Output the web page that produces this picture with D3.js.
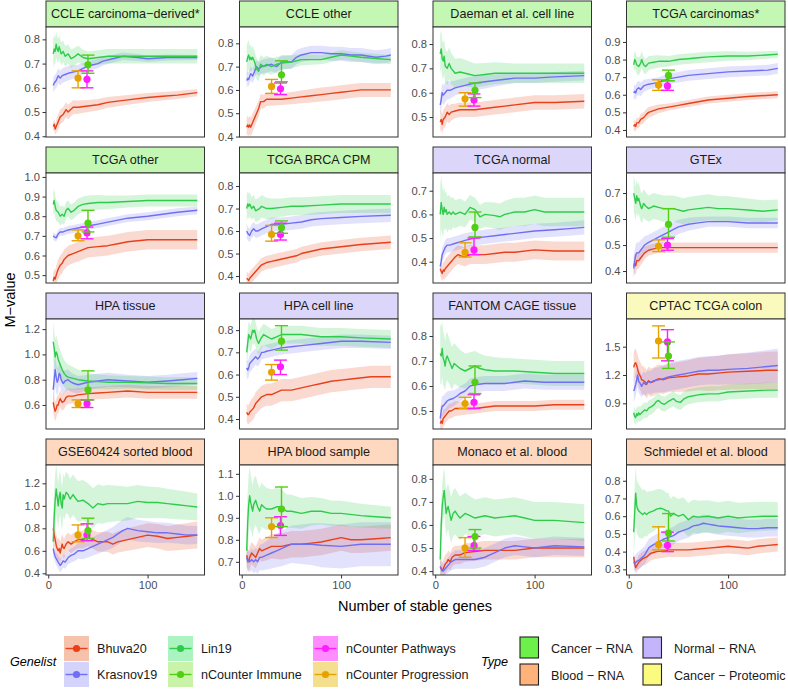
<!DOCTYPE html>
<html><head><meta charset="utf-8">
<script src="https://cdn.jsdelivr.net/npm/d3@7"></script>
<style>body{margin:0;background:#fff} text{font-family:"Liberation Sans",Arial,Helvetica,sans-serif}</style>
</head><body><svg id="c" width="788" height="689"></svg>
<script>
// ---------------- DATA ----------------
const panels = ["CCLE carcinoma\u2212derived*","CCLE other","Daeman et al. cell line","TCGA carcinomas*",
 "TCGA other","TCGA BRCA CPM","TCGA normal","GTEx",
 "HPA tissue","HPA cell line","FANTOM CAGE tissue","CPTAC TCGA colon",
 "GSE60424 sorted blood","HPA blood sample","Monaco et al. blood","Schmiedel et al. blood"];
const panelTypes = ["Cancer \u2212 RNA","Cancer \u2212 RNA","Cancer \u2212 RNA","Cancer \u2212 RNA",
 "Cancer \u2212 RNA","Cancer \u2212 RNA","Normal \u2212 RNA","Normal \u2212 RNA",
 "Normal \u2212 RNA","Normal \u2212 RNA","Normal \u2212 RNA","Cancer \u2212 Proteomic",
 "Blood \u2212 RNA","Blood \u2212 RNA","Blood \u2212 RNA","Blood \u2212 RNA"];
const yDomains = [[0.397,0.851],[0.398,0.87],[0.418,0.87],[0.36,0.985],
 [0.46,1.02],[0.369,0.858],[0.31,0.775],[0.354,0.777],
 [0.41,1.28],[0.355,0.85],[0.428,0.868],[0.628,1.793],
 [0.385,1.363],[0.64,1.14],[0.383,0.86],[0.268,0.889]];
const yTicks = [[.4,.5,.6,.7,.8],[.4,.5,.6,.7,.8],[.5,.6,.7,.8],[.4,.5,.6,.7,.8,.9],
 [.5,.6,.7,.8,.9,1.0],[.4,.5,.6,.7,.8],[.4,.5,.6,.7],[.4,.5,.6,.7],
 [.6,.8,1.0,1.2],[.4,.5,.6,.7,.8],[.5,.6,.7,.8],[.9,1.2,1.5],
 [.4,.6,.8,1.0,1.2],[.7,.8,.9,1.0,1.1],[.4,.5,.6,.7,.8],[.3,.4,.5,.6,.7,.8]];
const xTicks = [0,100];

// Bhuva20 lines [genes, M-value]
const bhuva20 = [
 [[5,.44],[6,.45],[7,.43],[8,.44],[10,.46],[12,.48],[15,.49],[18,.51],[20,.50],[25,.52],[30,.52],[40,.525],[50,.53],[60,.54],[70,.545],[80,.55],[100,.56],[115,.565],[130,.57],[150,.58]],
 [[5,.44],[6,.45],[7,.44],[8,.45],[9,.44],[11,.46],[13,.48],[15,.50],[17,.52],[19,.55],[22,.55],[25,.56],[30,.56],[40,.56],[50,.565],[60,.57],[70,.575],[80,.58],[90,.585],[100,.59],[110,.595],[120,.60],[135,.60],[150,.60]],
 [[5,.48],[6,.49],[7,.47],[8,.49],[10,.50],[12,.52],[14,.51],[16,.52],[20,.525],[25,.53],[30,.53],[40,.53],[50,.535],[60,.54],[70,.545],[80,.55],[100,.56],[120,.56],[150,.565]],
 [[5,.42],[6,.43],[7,.42],[8,.44],[10,.44],[12,.46],[15,.47],[18,.49],[20,.50],[25,.51],[30,.52],[40,.53],[50,.54],[60,.55],[70,.56],[80,.57],[100,.58],[120,.59],[150,.60]],
 [[5,.47],[6,.49],[7,.48],[8,.50],[10,.53],[12,.55],[14,.56],[16,.58],[18,.59],[20,.60],[25,.61],[30,.62],[40,.64],[50,.645],[60,.65],[70,.66],[80,.67],[100,.68],[120,.68],[150,.68]],
 [[5,.39],[6,.385],[7,.38],[8,.39],[10,.40],[12,.41],[14,.42],[16,.43],[18,.44],[20,.45],[25,.46],[30,.465],[35,.47],[45,.48],[55,.49],[60,.50],[70,.51],[80,.52],[100,.53],[120,.54],[150,.55]],
 [[5,.37],[6,.36],[7,.35],[8,.365],[9,.36],[10,.37],[12,.38],[14,.39],[16,.40],[18,.41],[20,.42],[23,.43],[26,.425],[30,.42],[35,.43],[40,.43],[50,.43],[60,.435],[70,.44],[80,.44],[100,.45],[120,.445],[150,.445]],
 [[5,.42],[6,.43],[7,.42],[8,.44],[10,.44],[12,.45],[14,.46],[16,.47],[20,.48],[25,.485],[30,.49],[40,.49],[50,.49],[70,.49],[100,.49],[120,.49],[150,.49]],
 [[5,.62],[6,.58],[7,.55],[8,.57],[9,.60],[10,.60],[11,.63],[12,.65],[14,.62],[16,.63],[18,.66],[20,.67],[25,.67],[30,.68],[40,.69],[50,.695],[60,.70],[80,.71],[100,.70],[120,.70],[150,.70]],
 [[5,.43],[6,.42],[7,.42],[8,.43],[10,.44],[12,.45],[14,.47],[16,.48],[18,.49],[20,.50],[25,.51],[30,.51],[40,.53],[50,.53],[60,.54],[70,.55],[80,.56],[90,.57],[100,.575],[110,.58],[130,.59],[150,.59]],
 [[5,.45],[6,.46],[7,.45],[8,.47],[10,.48],[12,.49],[14,.50],[16,.50],[20,.51],[25,.51],[30,.51],[40,.51],[50,.515],[60,.52],[80,.52],[100,.52],[120,.525],[150,.525]],
 [[5,1.28],[6,1.32],[7,1.33],[8,1.30],[9,1.26],[10,1.22],[11,1.20],[12,1.18],[13,1.15],[15,1.14],[17,1.12],[18,1.10],[20,1.14],[22,1.12],[25,1.13],[28,1.15],[30,1.16],[35,1.15],[40,1.17],[50,1.18],[60,1.19],[70,1.21],[80,1.21],[90,1.22],[100,1.23],[120,1.24],[140,1.25],[150,1.25]],
 [[5,.80],[6,.74],[7,.70],[8,.65],[9,.62],[10,.60],[11,.62],[12,.58],[13,.62],[14,.66],[15,.63],[16,.62],[18,.66],[20,.68],[23,.66],[26,.68],[30,.70],[35,.70],[40,.72],[45,.70],[50,.68],[60,.68],[65,.66],[70,.68],[80,.70],[90,.72],[100,.74],[110,.73],[120,.71],[130,.72],[140,.73],[150,.74]],
 [[5,.73],[6,.71],[7,.70],[8,.72],[10,.74],[12,.73],[14,.72],[16,.74],[18,.76],[20,.75],[25,.76],[30,.77],[40,.77],[50,.78],[60,.78],[70,.785],[80,.79],[100,.81],[110,.80],[120,.80],[135,.805],[150,.81]],
 [[5,.42],[6,.41],[7,.40],[8,.41],[10,.43],[12,.44],[13,.45],[15,.44],[17,.46],[20,.47],[25,.47],[30,.48],[40,.485],[50,.49],[60,.49],[80,.49],[100,.50],[120,.50],[150,.50]],
 [[5,.37],[6,.33],[7,.31],[8,.32],[10,.34],[12,.35],[14,.36],[16,.365],[18,.37],[20,.38],[22,.39],[25,.395],[28,.40],[35,.405],[40,.41],[50,.41],[60,.41],[70,.415],[80,.42],[90,.425],[100,.43],[110,.425],[120,.42],[130,.43],[140,.435],[150,.44]]
];
// Krasnov19 lines
const krasnov19 = [
 [[5,.61],[6,.62],[8,.63],[10,.65],[12,.64],[14,.65],[17,.655],[20,.66],[25,.665],[30,.67],[35,.68],[40,.69],[50,.70],[55,.71],[65,.72],[75,.73],[90,.725],[100,.72],[120,.725],[150,.725]],
 [[5,.64],[6,.65],[7,.645],[9,.67],[11,.66],[13,.68],[15,.70],[17,.69],[20,.70],[25,.705],[30,.71],[35,.70],[40,.72],[45,.72],[50,.72],[55,.74],[60,.75],[70,.76],[80,.76],[90,.755],[100,.755],[110,.75],[120,.75],[135,.74],[145,.745],[150,.75]],
 [[5,.55],[6,.57],[7,.60],[8,.59],[10,.60],[12,.61],[15,.61],[20,.62],[25,.625],[30,.63],[40,.64],[50,.645],[60,.65],[80,.66],[100,.66],[120,.665],[150,.67]],
 [[5,.61],[6,.62],[7,.61],[8,.63],[10,.64],[12,.63],[15,.65],[20,.66],[25,.665],[30,.67],[40,.69],[50,.70],[60,.71],[80,.72],[100,.73],[120,.735],[140,.74],[150,.75]],
 [[5,.70],[6,.695],[8,.69],[10,.71],[12,.72],[15,.72],[20,.73],[25,.735],[30,.74],[40,.75],[50,.76],[60,.77],[70,.78],[80,.79],[100,.80],[115,.81],[130,.82],[150,.83]],
 [[5,.60],[6,.59],[8,.58],[10,.60],[12,.61],[14,.60],[16,.60],[20,.61],[25,.62],[30,.63],[40,.63],[50,.635],[60,.64],[70,.65],[80,.655],[100,.66],[120,.665],[150,.67]],
 [[5,.38],[6,.40],[7,.43],[8,.44],[10,.46],[12,.47],[15,.47],[18,.475],[22,.48],[26,.485],[30,.49],[40,.50],[50,.505],[60,.51],[70,.515],[80,.52],[100,.53],[120,.535],[135,.54],[150,.545]],
 [[5,.41],[6,.44],[7,.46],[8,.47],[10,.47],[12,.48],[14,.49],[16,.50],[20,.51],[25,.52],[30,.53],[35,.54],[40,.55],[45,.56],[50,.57],[60,.58],[70,.585],[80,.59],[100,.59],[120,.585],[150,.585]],
 [[5,.72],[6,.80],[7,.88],[8,.82],[9,.78],[10,.80],[11,.85],[12,.84],[13,.80],[15,.77],[17,.79],[20,.80],[23,.78],[26,.77],[30,.76],[40,.78],[50,.79],[60,.80],[80,.79],[100,.78],[120,.79],[135,.80],[150,.81]],
 [[5,.63],[6,.62],[7,.63],[8,.65],[10,.66],[12,.67],[14,.68],[16,.67],[18,.68],[20,.70],[22,.70],[25,.705],[30,.71],[40,.72],[50,.725],[60,.73],[80,.74],[100,.75],[120,.75],[150,.745]],
 [[5,.47],[6,.50],[7,.52],[8,.52],[10,.53],[12,.54],[14,.545],[18,.55],[22,.56],[25,.57],[30,.58],[35,.60],[40,.605],[50,.61],[60,.61],[70,.61],[80,.615],[90,.62],[110,.615],[130,.615],[150,.615]],
 [[5,1.03],[6,1.06],[7,1.10],[8,1.15],[9,1.20],[10,1.13],[11,1.12],[12,1.10],[13,1.08],[15,1.12],[17,1.10],[19,1.13],[22,1.12],[25,1.14],[30,1.15],[35,1.16],[40,1.18],[50,1.20],[60,1.22],[70,1.24],[80,1.25],[90,1.25],[100,1.26],[120,1.27],[140,1.29],[150,1.30]],
 [[5,.62],[6,.58],[7,.55],[8,.53],[10,.50],[12,.47],[13,.48],[15,.51],[17,.50],[20,.54],[23,.56],[26,.57],[30,.60],[35,.60],[40,.62],[45,.64],[50,.66],[55,.68],[60,.70],[65,.72],[70,.75],[75,.78],[80,.80],[90,.78],[100,.77],[110,.76],[120,.76],[130,.75],[140,.74],[150,.74]],
 [[5,.72],[6,.70],[7,.71],[8,.70],[10,.71],[12,.70],[14,.71],[16,.70],[18,.72],[20,.72],[25,.73],[30,.74],[35,.75],[40,.76],[50,.78],[60,.78],[70,.78],[80,.775],[100,.77],[120,.78],[150,.78]],
 [[5,.42],[6,.41],[8,.40],[10,.41],[12,.42],[14,.43],[16,.44],[20,.45],[25,.45],[30,.45],[40,.45],[50,.46],[55,.47],[60,.48],[70,.50],[80,.51],[90,.505],[100,.50],[120,.51],[150,.505]],
 [[5,.34],[6,.33],[7,.34],[8,.345],[10,.35],[12,.36],[14,.37],[16,.38],[18,.40],[20,.42],[22,.43],[25,.44],[28,.45],[32,.46],[35,.47],[40,.48],[45,.49],[50,.51],[55,.52],[60,.53],[65,.545],[70,.55],[75,.56],[80,.555],[85,.55],[90,.545],[100,.54],[110,.535],[120,.53],[130,.53],[140,.535],[150,.535]]
];
// Lin19 lines
const lin19 = [
 [[5,.74],[6,.76],[7,.75],[8,.78],[9,.76],[10,.75],[11,.77],[13,.74],[15,.75],[17,.73],[20,.74],[23,.72],[27,.73],[30,.74],[35,.725],[40,.72],[50,.725],[60,.73],[80,.73],[100,.73],[120,.73],[150,.73]],
 [[5,.72],[6,.74],[7,.75],[8,.73],[9,.74],[10,.73],[11,.74],[13,.72],[15,.69],[17,.68],[19,.71],[22,.70],[25,.71],[30,.70],[35,.71],[40,.715],[50,.72],[60,.73],[70,.73],[80,.73],[90,.74],[100,.75],[110,.745],[120,.74],[135,.735],[150,.73]],
 [[5,.76],[6,.78],[7,.74],[8,.73],[9,.75],[10,.71],[12,.70],[14,.72],[16,.70],[18,.69],[20,.68],[25,.685],[30,.68],[35,.675],[40,.67],[50,.675],[60,.68],[80,.68],[100,.68],[120,.68],[150,.68]],
 [[5,.77],[6,.80],[7,.79],[8,.77],[10,.76],[12,.78],[13,.80],[15,.77],[17,.76],[20,.78],[25,.785],[30,.79],[40,.79],[50,.80],[60,.805],[70,.81],[80,.815],[100,.82],[120,.82],[150,.83]],
 [[5,.86],[6,.88],[7,.85],[8,.83],[10,.82],[12,.80],[14,.81],[16,.80],[18,.83],[20,.84],[23,.82],[26,.83],[30,.85],[35,.86],[40,.865],[50,.87],[60,.87],[80,.875],[100,.88],[120,.88],[150,.88]],
 [[5,.70],[6,.72],[7,.71],[8,.72],[10,.70],[12,.71],[14,.69],[16,.695],[18,.70],[20,.71],[25,.70],[30,.70],[40,.705],[50,.71],[60,.71],[80,.715],[100,.72],[120,.72],[150,.72]],
 [[5,.60],[6,.65],[7,.62],[8,.60],[9,.63],[10,.61],[11,.62],[12,.60],[14,.61],[16,.60],[18,.61],[20,.60],[25,.61],[30,.60],[35,.63],[40,.62],[45,.59],[50,.60],[60,.595],[65,.59],[70,.60],[80,.61],[90,.61],[100,.62],[110,.61],[120,.61],[140,.61],[150,.61]],
 [[5,.70],[6,.68],[7,.66],[8,.69],[9,.67],[10,.68],[12,.65],[13,.64],[15,.66],[17,.65],[20,.64],[25,.65],[30,.645],[35,.64],[45,.64],[55,.63],[60,.635],[70,.64],[80,.645],[90,.64],[100,.64],[120,.635],[135,.63],[150,.635]],
 [[5,1.10],[6,1.05],[7,.98],[8,1.02],[9,1.00],[10,.96],[12,.92],[14,.88],[16,.85],[18,.83],[20,.82],[25,.81],[30,.80],[40,.79],[50,.785],[60,.78],[80,.78],[100,.775],[120,.77],[150,.77]],
 [[5,.70],[6,.74],[7,.78],[8,.77],[9,.76],[10,.78],[11,.80],[12,.79],[13,.80],[15,.76],[17,.74],[19,.76],[22,.78],[26,.77],[30,.76],[35,.77],[40,.78],[50,.78],[60,.78],[80,.77],[100,.77],[120,.765],[150,.76]],
 [[5,.73],[6,.72],[7,.75],[8,.71],[9,.70],[10,.68],[11,.71],[12,.72],[13,.71],[15,.69],[17,.67],[19,.69],[22,.68],[25,.67],[30,.66],[35,.67],[40,.68],[45,.67],[50,.665],[60,.66],[70,.66],[80,.66],[100,.655],[120,.65],[150,.65]],
 [[5,.80],[6,.76],[7,.75],[8,.79],[9,.77],[10,.80],[11,.78],[12,.79],[14,.81],[16,.83],[18,.82],[20,.85],[22,.86],[25,.88],[28,.92],[30,.93],[33,.90],[36,.89],[40,.92],[45,.95],[48,.92],[52,.91],[56,.95],[60,.97],[70,.99],[80,1.00],[90,1.00],[100,1.02],[120,1.03],[140,1.04],[150,1.04]],
 [[5,.68],[6,.90],[7,1.05],[8,1.15],[9,1.08],[10,1.00],[11,1.08],[12,1.12],[13,1.02],[14,.98],[15,1.10],[16,1.06],[18,1.12],[20,1.10],[22,1.06],[25,1.10],[28,1.06],[30,1.04],[35,1.05],[40,1.02],[45,.98],[50,1.02],[55,1.01],[60,1.02],[70,1.02],[80,1.02],[90,1.04],[100,1.03],[110,1.03],[120,1.02],[130,1.01],[140,1.00],[150,.99]],
 [[5,.75],[6,.88],[7,.96],[8,1.00],[9,.97],[10,.95],[11,.93],[12,.96],[14,.98],[16,.95],[18,.93],[20,.96],[22,.95],[25,.94],[30,.94],[35,.95],[40,.95],[45,.93],[50,.93],[60,.92],[70,.93],[80,.93],[90,.92],[100,.92],[120,.91],[135,.905],[150,.90]],
 [[5,.45],[6,.60],[7,.68],[8,.72],[9,.75],[10,.70],[11,.65],[12,.67],[13,.68],[15,.64],[16,.62],[18,.65],[20,.66],[23,.64],[25,.63],[30,.65],[35,.64],[40,.63],[50,.64],[60,.63],[70,.635],[80,.64],[90,.63],[100,.62],[120,.62],[150,.61]],
 [[5,.51],[6,.62],[7,.73],[8,.66],[9,.64],[10,.63],[12,.62],[14,.61],[16,.62],[18,.61],[20,.62],[25,.63],[28,.64],[32,.645],[35,.64],[38,.63],[40,.63],[42,.60],[45,.615],[50,.60],[55,.61],[60,.58],[65,.60],[70,.595],[80,.60],[90,.59],[100,.60],[110,.59],[120,.595],[135,.60],[150,.60]]
];
// ribbon half-widths read at these gene counts
const ribbonX = [5,10,20,40,80,150];
const bhuva20Band = [[.02,.03,.03,.025,.02,.015],[.04,.04,.03,.025,.03,.03],[.04,.04,.03,.03,.03,.03],[.03,.03,.03,.02,.02,.02],
 [.04,.05,.05,.05,.05,.05],[.03,.03,.03,.03,.03,.03],[.03,.04,.04,.04,.04,.04],[.04,.03,.02,.02,.02,.02],
 [.08,.07,.06,.05,.05,.05],[.04,.05,.05,.05,.05,.05],[.04,.03,.03,.02,.02,.02],[.15,.15,.15,.15,.18,.2],
 [.10,.10,.08,.08,.10,.12],[.05,.05,.05,.06,.06,.06],[.04,.04,.04,.04,.04,.04],[.03,.04,.04,.04,.04,.04]];
const krasnov19Band = [[.03,.03,.03,.02,.015,.01],[.03,.03,.03,.03,.03,.03],[.04,.04,.03,.03,.02,.02],[.04,.04,.03,.03,.03,.03],
 [.02,.02,.02,.02,.02,.02],[.03,.03,.03,.03,.03,.03],[.03,.03,.03,.03,.03,.03],[.04,.04,.03,.03,.02,.02],
 [.15,.10,.08,.06,.05,.05],[.04,.04,.03,.03,.03,.03],[.04,.04,.03,.03,.03,.03],[.12,.12,.12,.15,.15,.18],
 [.05,.06,.06,.08,.10,.08],[.04,.05,.06,.08,.10,.10],[.03,.03,.04,.04,.04,.04],[.04,.05,.05,.05,.05,.05]];
const lin19Band = [[.06,.05,.04,.03,.03,.03],[.07,.05,.04,.03,.02,.02],[.08,.07,.06,.05,.04,.04],[.05,.05,.04,.03,.03,.02],
 [.06,.05,.04,.04,.03,.03],[.06,.05,.05,.04,.04,.04],[.12,.08,.06,.05,.06,.06],[.07,.06,.05,.05,.05,.04],
 [.15,.12,.10,.06,.05,.05],[.06,.06,.05,.04,.04,.04],[.12,.10,.08,.06,.05,.05],[.08,.08,.08,.08,.08,.08],
 [.25,.20,.18,.18,.15,.12],[.15,.12,.10,.08,.06,.05],[.10,.10,.10,.08,.08,.08],[.15,.15,.12,.10,.09,.08]];

// nCounter panels: [M-value, lower, upper]
const pointGenes = [30, 39, 40]; // Progression, Pathways, Immune
const nProgression = [[.64,.60,.67],[.615,.585,.645],[.575,.545,.60],[.655,.625,.685],
 [.70,.675,.73],[.585,.555,.625],[.44,.42,.48],[.495,.475,.52],
 [.61,.58,.64],[.61,.575,.645],[.53,.51,.555],[1.56,1.38,1.72],
 [.74,.68,.83],[.86,.81,.90],[.50,.46,.545],[.44,.41,.54]];
const nPathways = [[.635,.60,.67],[.605,.58,.63],[.57,.545,.595],[.65,.625,.68],
 [.715,.685,.745],[.585,.56,.635],[.45,.43,.50],[.50,.48,.525],
 [.61,.58,.64],[.635,.60,.665],[.535,.51,.565],[1.55,1.35,1.68],
 [.74,.69,.84],[.865,.82,.905],[.51,.49,.55],[.435,.40,.51]];
const nImmune = [[.695,.66,.735],[.665,.635,.725],[.61,.58,.64],[.71,.68,.74],
 [.765,.72,.83],[.615,.59,.645],[.545,.505,.61],[.58,.53,.64],
 [.72,.64,.87],[.75,.71,.82],[.615,.57,.68],[1.40,1.27,1.55],
 [.78,.71,.89],[.94,.86,1.04],[.55,.50,.58],[.505,.46,.615]];

const genelists = ["Bhuva20","Krasnov19","Lin19","nCounter Immune","nCounter Pathways","nCounter Progression"];
const typeNames = ["Cancer \u2212 RNA","Blood \u2212 RNA","Normal \u2212 RNA","Cancer \u2212 Proteomic"];

// ---------------- STYLE ----------------
const col = {"Bhuva20":"#e8401a","Krasnov19":"#6f6ff4","Lin19":"#2fcc4c","nCounter Immune":"#52cf14","nCounter Pathways":"#ff1cff","nCounter Progression":"#e6a300"};
const keyBg = {"Bhuva20":"#f6c2ab","Krasnov19":"#d3d3fb","Lin19":"#abf4c2","nCounter Immune":"#c8f3a8","nCounter Pathways":"#ff8dff","nCounter Progression":"#f4df8f"};
const typeCol = {"Cancer \u2212 RNA":"#6ef04a","Blood \u2212 RNA":"#ffb27a","Normal \u2212 RNA":"#c3b4fc","Cancer \u2212 Proteomic":"#fbfb7f"};
const stripCol = {"Cancer \u2212 RNA":"#c3f7b3","Blood \u2212 RNA":"#fed9c0","Normal \u2212 RNA":"#ddd6fb","Cancer \u2212 Proteomic":"#fafabf"};

const colLeft = [46, 239.5, 433, 626.5], panelW = 158.5;
const rowTop = [1, 147, 293, 439], stripH = 26, plotH = 110;
const FONT = '"Liberation Sans",Arial,sans-serif';

const svg = d3.select("#c");
const fmt = d3.format(".1f");

panels.forEach((name, i) => {
  const c = i % 4, r = Math.floor(i / 4);
  const L = colLeft[c], T = rowTop[r] + stripH;
  const x = d3.scaleLinear().domain([-2.25, 157.25]).range([L, L + panelW]);
  const y = d3.scaleLinear().domain(yDomains[i]).range([T + plotH, T]);
  const g = svg.append("g");
  // strip
  g.append("rect").attr("x", L).attr("y", rowTop[r]).attr("width", panelW).attr("height", stripH)
    .attr("fill", stripCol[panelTypes[i]]).attr("stroke", "#333").attr("stroke-width", 1);
  g.append("text").attr("x", L + panelW / 2).attr("y", rowTop[r] + stripH / 2 + 4.3)
    .attr("text-anchor", "middle").attr("font-size", 12.6).attr("fill", "#1a1a1a").text(name);
  g.append("rect").attr("x", L).attr("y", T).attr("width", panelW).attr("height", plotH).attr("fill", "#fff");
  const cid = "clip" + i;
  svg.append("clipPath").attr("id", cid).append("rect").attr("x", L).attr("y", T).attr("width", panelW).attr("height", plotH);
  const pg = g.append("g").attr("clip-path", `url(#${cid})`);
  const series = [["Bhuva20", bhuva20[i], bhuva20Band[i]], ["Krasnov19", krasnov19[i], krasnov19Band[i]], ["Lin19", lin19[i], lin19Band[i]]];
  series.forEach(([k, pts, band]) => {
    const hw = d3.scaleLinear().domain(ribbonX).range(band);
    pg.append("path").datum(pts)
      .attr("d", d3.area().x(d => x(d[0])).y0(d => y(d[1] - hw(d[0]))).y1(d => y(d[1] + hw(d[0]))))
      .attr("fill", col[k]).attr("fill-opacity", 0.2);
  });
  series.forEach(([k, pts]) => {
    pg.append("path").datum(pts).attr("d", d3.line().x(d => x(d[0])).y(d => y(d[1])))
      .attr("fill", "none").attr("stroke", col[k]).attr("stroke-width", 1.4).attr("stroke-linejoin", "round");
  });
  const pts = [["nCounter Progression", pointGenes[0], nProgression[i]], ["nCounter Pathways", pointGenes[1], nPathways[i]], ["nCounter Immune", pointGenes[2], nImmune[i]]];
  pts.forEach(([k, gx, v]) => {
    const e = g.append("g").attr("stroke", col[k]).attr("stroke-width", 1.4);
    e.append("line").attr("x1", x(gx)).attr("x2", x(gx)).attr("y1", y(v[1])).attr("y2", y(v[2]));
    e.append("line").attr("x1", x(gx - 6.5)).attr("x2", x(gx + 6.5)).attr("y1", y(v[1])).attr("y2", y(v[1]));
    e.append("line").attr("x1", x(gx - 6.5)).attr("x2", x(gx + 6.5)).attr("y1", y(v[2])).attr("y2", y(v[2]));
    g.append("circle").attr("cx", x(gx)).attr("cy", y(v[0])).attr("r", 3.6).attr("fill", col[k]);
  });
  g.append("rect").attr("x", L).attr("y", T).attr("width", panelW).attr("height", plotH)
    .attr("fill", "none").attr("stroke", "#333").attr("stroke-width", 1);
  // y axis
  const ya = g.append("g").attr("transform", `translate(${L},0)`)
    .call(d3.axisLeft(y).tickValues(yTicks[i]).tickSize(3.5).tickPadding(2.5).tickFormat(fmt));
  ya.select(".domain").remove();
  ya.selectAll(".tick line").attr("stroke", "#333");
  ya.selectAll(".tick text").attr("fill", "#4d4d4d").attr("font-size", 11.2).attr("font-family", FONT);
  if (r === 3) {
    const xa = g.append("g").attr("transform", `translate(0,${T + plotH})`)
      .call(d3.axisBottom(x).tickValues(xTicks).tickSize(3.5).tickPadding(2.5));
    xa.select(".domain").remove();
    xa.selectAll(".tick line").attr("stroke", "#333");
    xa.selectAll(".tick text").attr("fill", "#4d4d4d").attr("font-size", 11.2).attr("font-family", FONT);
  }
});

// axis titles
svg.append("text").attr("x", 415).attr("y", 611).attr("text-anchor", "middle").attr("font-size", 14.5).attr("fill", "#000").text("Number of stable genes");
svg.append("text").attr("transform", "translate(15,300) rotate(-90)").attr("text-anchor", "middle").attr("font-size", 14.5).attr("fill", "#000").text("M\u2212value");

// Genelist legend
svg.append("text").attr("x", 10).attr("y", 666).attr("font-size", 12.6).attr("font-style", "italic").text("Genelist");
const gCols = [64, 168, 313], kRows = [636, 662];
genelists.forEach((k, j) => {
  const kx = gCols[Math.floor(j / 2)], ky = kRows[j % 2];
  svg.append("rect").attr("x", kx).attr("y", ky).attr("width", 25).attr("height", 25).attr("fill", keyBg[k]);
  svg.append("line").attr("x1", kx + 1.5).attr("x2", kx + 23.5).attr("y1", ky + 12.5).attr("y2", ky + 12.5).attr("stroke", col[k]).attr("stroke-width", 1.4);
  svg.append("circle").attr("cx", kx + 12.5).attr("cy", ky + 12.5).attr("r", 3.6).attr("fill", col[k]);
  svg.append("text").attr("x", kx + 33).attr("y", ky + 17).attr("font-size", 12.6).attr("fill", "#1a1a1a").text(k);
});
// Type legend
svg.append("text").attr("x", 481).attr("y", 666).attr("font-size", 12.6).attr("font-style", "italic").text("Type");
const tCols = [520, 643], tRows = [636, 663];
typeNames.forEach((k, j) => {
  const kx = tCols[Math.floor(j / 2)], ky = tRows[j % 2];
  svg.append("rect").attr("x", kx).attr("y", ky + 1).attr("width", 18.5).attr("height", 21).attr("fill", typeCol[k]).attr("stroke", "#222").attr("stroke-width", 1.1);
  svg.append("text").attr("x", kx + 31).attr("y", ky + 17).attr("font-size", 12.6).attr("fill", "#1a1a1a").text(k);
});
</script></body></html>
